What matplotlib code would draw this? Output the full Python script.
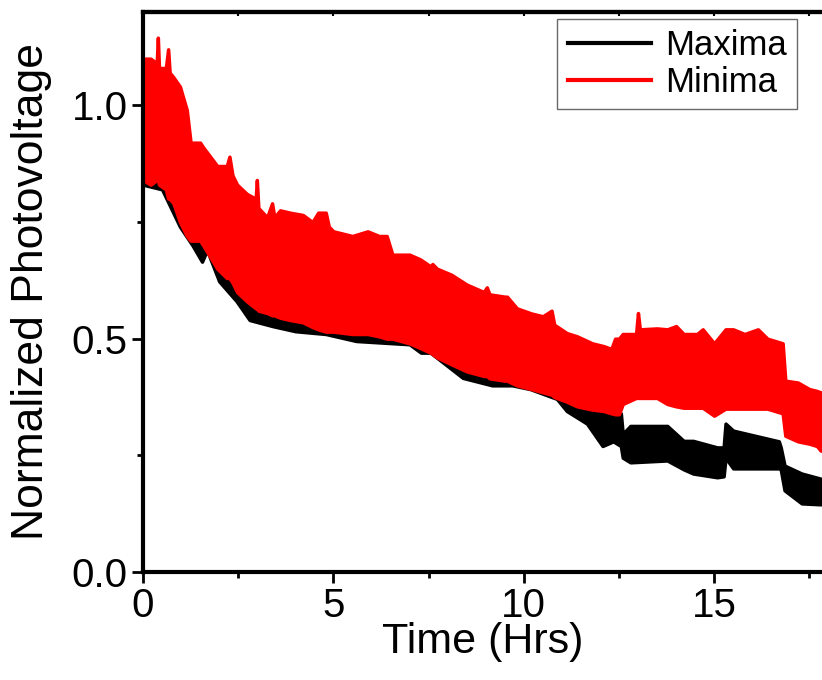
import numpy as np
import matplotlib.pyplot as plt
from matplotlib.lines import Line2D

plt.rcParams['font.family'] = ['Liberation Sans', 'DejaVu Sans']

# Minima (red band): time, upper and lower envelope
t_min = [0.00, 0.20, 0.36, 0.39, 0.42, 0.60, 0.66, 0.70, 0.80, 0.97, 1.15, 1.25, 1.50, 1.58,
         1.95, 2.20, 2.27, 2.35, 2.47, 2.73, 2.96, 2.99, 3.03, 3.26, 3.39, 3.45, 3.60, 3.86,
         4.20, 4.45, 4.60, 4.80, 4.88, 5.00, 5.50, 5.90, 6.20, 6.40, 6.55, 7.00, 7.28, 7.55,
         7.60, 7.72, 8.10, 8.50, 8.95, 9.03, 9.10, 9.50, 9.56, 9.82, 10.20, 10.50, 10.73, 10.80,
         11.13, 11.40, 11.80, 12.10, 12.30, 12.40, 12.50, 12.60, 12.95, 13.00, 13.05, 13.50,
         13.77, 14.00, 14.20, 14.55, 14.70, 15.00, 15.30, 15.50, 15.80, 16.15, 16.40, 16.80,
         16.87, 17.20, 17.50, 17.70, 17.80]
min_hi = [1.10, 1.10, 1.09, 1.145, 1.08, 1.08, 1.12, 1.07, 1.06, 1.04, 0.99, 0.92, 0.92, 0.91,
          0.87, 0.87, 0.89, 0.85, 0.83, 0.81, 0.80, 0.84, 0.78, 0.76, 0.79, 0.76, 0.775, 0.77,
          0.765, 0.75, 0.77, 0.77, 0.74, 0.73, 0.72, 0.73, 0.72, 0.72, 0.68, 0.68, 0.67, 0.655,
          0.66, 0.65, 0.637, 0.616, 0.60, 0.61, 0.595, 0.59, 0.59, 0.565, 0.554, 0.548, 0.56, 0.53,
          0.512, 0.505, 0.49, 0.484, 0.478, 0.50, 0.50, 0.51, 0.51, 0.555, 0.52, 0.522,
          0.52, 0.527, 0.51, 0.51, 0.52, 0.49, 0.52, 0.52, 0.51, 0.52, 0.50, 0.49,
          0.41, 0.406, 0.392, 0.388, 0.385]
min_lo = [0.84, 0.83, 0.84, 0.84, 0.83, 0.82, 0.80, 0.80, 0.79, 0.75, 0.72, 0.71, 0.71, 0.70,
          0.65, 0.63, 0.63, 0.62, 0.60, 0.58, 0.565, 0.565, 0.56, 0.555, 0.55, 0.55, 0.545, 0.54,
          0.535, 0.525, 0.52, 0.515, 0.515, 0.515, 0.51, 0.51, 0.505, 0.50, 0.50, 0.49, 0.48, 0.47,
          0.467, 0.46, 0.445, 0.43, 0.42, 0.42, 0.415, 0.41, 0.41, 0.40, 0.392, 0.385, 0.38, 0.375,
          0.365, 0.355, 0.348, 0.345, 0.34, 0.338, 0.338, 0.36, 0.373, 0.373, 0.373, 0.373,
          0.36, 0.355, 0.352, 0.352, 0.352, 0.335, 0.35, 0.35, 0.35, 0.35, 0.35, 0.34,
          0.292, 0.28, 0.275, 0.27, 0.26]

# Maxima (black band)
t_max = [0.00, 0.50, 0.97, 1.30, 1.55, 1.68, 2.00, 2.46, 2.80, 3.40, 4.00, 4.80, 5.60, 6.60,
         7.00, 7.30, 7.55, 8.07, 8.40, 9.17, 9.70, 10.17, 10.87, 11.13, 11.66, 12.07, 12.35,
         12.55, 12.60, 12.80, 13.77, 14.20, 14.45, 15.08, 15.25, 15.30, 15.50, 16.70, 16.75,
         16.85, 17.30, 17.80]
max_hi = [0.96, 0.95, 0.90, 0.82, 0.80, 0.80, 0.76, 0.72, 0.69, 0.66, 0.65, 0.63, 0.62, 0.60,
          0.59, 0.58, 0.57, 0.55, 0.54, 0.52, 0.50, 0.48, 0.45, 0.43, 0.40, 0.36, 0.34,
          0.34, 0.296, 0.313, 0.313, 0.281, 0.281, 0.267, 0.267, 0.318, 0.303, 0.28, 0.267,
          0.228, 0.211, 0.20]
max_lo = [0.83, 0.82, 0.74, 0.70, 0.665, 0.69, 0.623, 0.58, 0.54, 0.527, 0.516, 0.51, 0.495, 0.49,
          0.488, 0.47, 0.47, 0.437, 0.416, 0.40, 0.40, 0.392, 0.371, 0.345, 0.318, 0.27, 0.28,
          0.27, 0.245, 0.235, 0.239, 0.22, 0.211, 0.203, 0.205, 0.245, 0.222, 0.222, 0.22,
          0.175, 0.147, 0.145]

fig = plt.figure(figsize=(8.22, 6.8), dpi=100)
ax = fig.add_axes([143 / 822, 1 - 572 / 680, 680 / 822, 560 / 680])

ax.fill_between(t_max, max_lo, max_hi, color='black', lw=2.5, edgecolor='black')
ax.fill_between(t_min, min_lo, min_hi, color='red', lw=2.5, edgecolor='red')

ax.set_xlim(0, 17.86)
ax.set_ylim(0, 1.2)
ax.set_xticks([0, 5, 10, 15])
ax.set_xticks([2.5, 7.5, 12.5, 17.5], minor=True)
ax.set_yticks([0.0, 0.5, 1.0])
ax.set_yticks([0.25, 0.75], minor=True)
ax.set_yticklabels(['0.0', '0.5', '1.0'])

for s in ax.spines.values():
    s.set_linewidth(3)
ax.tick_params(which='major', length=8, width=2, labelsize=29, pad=3)
ax.tick_params(which='minor', length=4, width=2)

top = ax.secondary_xaxis('top')
top.set_xticks([0, 5, 10, 15])
top.set_xticks([2.5, 7.5, 12.5, 17.5], minor=True)
top.tick_params(which='both', direction='in', length=3, width=1.5, labeltop=False)
top.spines['top'].set_linewidth(3)

ax.set_xlabel('Time (Hrs)', fontsize=31, labelpad=-2)
ax.set_ylabel('Normalized Photovoltage', fontsize=32, labelpad=14)

handles = [Line2D([], [], color='black', lw=3), Line2D([], [], color='red', lw=3)]
leg = ax.legend(handles, ['Maxima', 'Minima'], loc='upper right', fontsize=25,
                bbox_to_anchor=(797 / 822, 1 - 19 / 680), bbox_transform=fig.transFigure,
                borderaxespad=0, fancybox=False, handlelength=2.4, handletextpad=0.4,
                labelspacing=0.1, borderpad=0.3)
leg.get_frame().set_edgecolor('#444444')
leg.get_frame().set_linewidth(1)

plt.savefig('out.png', dpi=100)
